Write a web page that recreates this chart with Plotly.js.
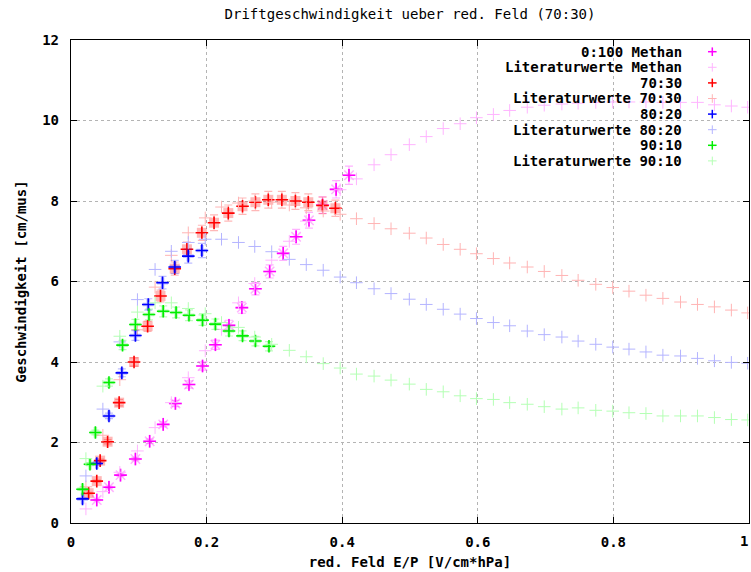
<!DOCTYPE html>
<html>
<head>
<meta charset="utf-8">
<script src="https://cdn.plot.ly/plotly-3.0.1.min.js"></script>
<style>html,body{margin:0;padding:0;background:#fff}#chart{width:751px;height:572px}</style>
</head>
<body>
<div id="chart"></div>
<script>
// ---- Data ----
const seriesNames = ["0:100 Methan","Literaturwerte Methan","70:30","Literaturwerte 70:30","80:20","Literaturwerte 80:20","90:10","Literaturwerte 90:10"];

const methanX = [0.038,0.056,0.073,0.095,0.116,0.136,0.154,0.174,0.194,0.213,0.233,0.252,0.272,0.293,0.313,0.332,0.351,0.371,0.391,0.410];
const methanY = [0.57,0.89,1.19,1.59,2.03,2.45,2.97,3.44,3.90,4.43,4.91,5.35,5.82,6.25,6.70,7.11,7.52,7.90,8.29,8.64];

const litX = [0.022,0.047,0.072,0.098,0.124,0.148,0.173,0.198,0.222,0.247,0.271,0.296,0.322,0.347,0.372,0.397,0.421,0.447,0.472,0.499,0.524,0.549,0.574,0.598,0.623,0.647,0.673,0.698,0.724,0.748,0.774,0.799,0.823,0.848,0.873,0.899,0.924,0.949,0.974,0.998];
const litMethanY = [0.35,0.78,1.26,1.79,2.37,2.99,3.61,4.28,4.81,5.47,5.95,6.53,7.00,7.50,7.90,8.28,8.55,8.90,9.15,9.40,9.60,9.80,9.92,10.07,10.15,10.25,10.33,10.38,10.41,10.43,10.45,10.46,10.46,10.46,10.45,10.45,10.45,10.39,10.36,10.33];
const lit7030Y = [0.90,2.18,3.56,4.80,5.86,6.65,7.21,7.58,7.85,7.95,8.00,7.97,7.90,7.83,7.75,7.67,7.56,7.44,7.31,7.20,7.08,6.92,6.80,6.69,6.57,6.46,6.36,6.25,6.15,6.03,5.93,5.85,5.76,5.66,5.58,5.49,5.43,5.37,5.29,5.22];
const lit8020Y = [1.17,2.83,4.50,5.55,6.30,6.75,6.97,7.05,7.05,6.97,6.87,6.74,6.55,6.42,6.28,6.11,5.97,5.82,5.70,5.56,5.43,5.31,5.19,5.08,4.98,4.90,4.77,4.68,4.62,4.52,4.44,4.37,4.32,4.25,4.17,4.15,4.09,4.03,3.99,3.97];
const lit9010Y = [1.60,3.40,4.64,5.24,5.47,5.47,5.33,5.20,4.98,4.86,4.62,4.44,4.29,4.13,3.96,3.85,3.70,3.65,3.55,3.45,3.32,3.26,3.16,3.09,3.07,2.99,2.95,2.89,2.83,2.86,2.80,2.78,2.74,2.72,2.66,2.66,2.66,2.62,2.57,2.56];

const m7030X = [0.026,0.038,0.043,0.054,0.071,0.093,0.113,0.132,0.153,0.171,0.193,0.211,0.232,0.253,0.272,0.291,0.311,0.331,0.350,0.371,0.390];
const m7030Y = [0.74,1.04,1.55,2.02,2.99,4.00,4.89,5.64,6.32,6.80,7.21,7.46,7.70,7.87,7.97,8.03,8.03,8.00,7.97,7.89,7.82];

const m8020X = [0.017,0.038,0.056,0.075,0.095,0.114,0.135,0.153,0.173,0.193];
const m8020Y = [0.60,1.48,2.66,3.73,4.66,5.43,5.97,6.36,6.63,6.77];

const m9010X = [0.017,0.028,0.036,0.056,0.076,0.095,0.115,0.136,0.155,0.174,0.194,0.213,0.233,0.253,0.272,0.292];
const m9010Y = [0.84,1.46,2.25,3.49,4.42,4.93,5.18,5.26,5.23,5.16,5.04,4.94,4.77,4.65,4.52,4.39];

const xTickVals = [0,0.2,0.4,0.6,0.8,1];
const xTickText = ["0","0.2","0.4","0.6","0.8","1"];
const yTickVals = [0,2,4,6,8,10,12];
const yTickText = ["0","2","4","6","8","10","12"];

// ---- Styles ----
const FONT = "DejaVu Sans Mono, monospace";
const colMeas = ["#ff00ff","#ff0000","#0000ff","#00ee00"];
const colHalo = ["rgba(255,0,255,0.3)","rgba(255,0,0,0.28)","rgba(0,0,255,0.25)","rgba(0,238,0,0.25)"];
const colLit  = ["#ffb4ff","#ffb4b4","#b4b4ff","#b4ffb4"];
const haloSym = ["asterisk-open","square","cross","cross"];

function halo(x,y,i){
  const sym = haloSym[i];
  const open = sym.indexOf("open")>=0;
  return {x:x,y:y,type:"scatter",mode:"markers",showlegend:false,hoverinfo:"skip",
    marker:{symbol:sym,size:open?11:(i===1?10:9),color:colHalo[i],line:{color:colHalo[i],width:open?1.5:0}},
    error_y:{type:"percent",value:2.6,color:colHalo[i],thickness:1.2,width:4}};
}
function meas(x,y,i){
  return {x:x,y:y,type:"scatter",mode:"markers",name:seriesNames[2*i],showlegend:false,
    marker:{symbol:"cross-thin-open",size:9,color:colMeas[i],line:{color:colMeas[i],width:1.6}}};
}
function lit(x,y,i){
  return {x:x,y:y,type:"scatter",mode:"markers",name:seriesNames[2*i+1],showlegend:false,
    marker:{symbol:"cross-thin-open",size:9,color:colLit[i],line:{color:colLit[i],width:1}}};
}

const data = [
  halo(methanX,methanY,0), meas(methanX,methanY,0), lit(litX,litMethanY,0),
  halo(m7030X,m7030Y,1), meas(m7030X,m7030Y,1), lit(litX,lit7030Y,1),
  halo(m8020X,m8020Y,2), meas(m8020X,m8020Y,2), lit(litX,lit8020Y,2),
  halo(m9010X,m9010Y,3), meas(m9010X,m9010Y,3), lit(litX,lit9010Y,3)
];

// ---- Layout ----
const W=751,H=572,ML=71,MR=2,MT=40,MB=49;
const PW=W-ML-MR, PH=H-MT-MB;
const px2x = p => (p-ML)/PW;
const px2y = p => (H-MB-p)/PH;
const TICKFONT = {family:FONT,size:14,color:"#000",weight:"bold"};

const annotations = [];
const shapes = [];
for(let k=0;k<8;k++){
  const cy = 51.7+15.6*k;
  annotations.push({xref:"paper",yref:"paper",x:px2x(684),y:px2y(cy),xanchor:"right",yanchor:"middle",
    text:seriesNames[k],showarrow:false,font:TICKFONT});
  const i = Math.floor(k/2), isLit = k%2===1;
  const c = isLit?colLit[i]:colMeas[i], w = isLit?1:1.5, h=4.3, cx=712.3;
  shapes.push({type:"line",xref:"paper",yref:"paper",x0:px2x(cx-h),x1:px2x(cx+h),y0:px2y(cy),y1:px2y(cy),line:{color:c,width:w}});
  shapes.push({type:"line",xref:"paper",yref:"paper",x0:px2x(cx),x1:px2x(cx),y0:px2y(cy-h),y1:px2y(cy+h),line:{color:c,width:w}});
}
// last x tick label, kept inside the page instead of being cut at the right edge
const shownXText = xTickText.slice(0,-1).concat([""]);
annotations.push({xref:"paper",yref:"paper",x:px2x(750),y:px2y(541),xanchor:"right",yanchor:"middle",
  text:xTickText[xTickText.length-1],showarrow:false,font:TICKFONT});

const axisCommon = {showline:true,mirror:"ticks",linecolor:"#000",linewidth:1.2,ticks:"inside",ticklen:6,tickcolor:"#000",
  showgrid:true,gridcolor:"#b4b4b4",griddash:"dot",gridwidth:1,zeroline:false,
  tickfont:TICKFONT};

const layout = {
  width:W,height:H,margin:{l:ML,r:MR,t:MT,b:MB,pad:0},
  paper_bgcolor:"#fff",plot_bgcolor:"#fff",showlegend:false,
  title:{text:"Driftgeschwindigkeit ueber red. Feld (70:30)",font:{family:FONT,size:14,color:"#000"},
    x:0.5,xref:"paper",xanchor:"center",y:1-14/H,yref:"container",yanchor:"middle"},
  xaxis:Object.assign({},axisCommon,{range:[0,1],tickvals:xTickVals,ticktext:shownXText,ticklabelstandoff:6,
    title:{text:"red. Feld E/P [V/cm*hPa]",font:TICKFONT,standoff:8}}),
  yaxis:Object.assign({},axisCommon,{range:[0,12],tickvals:yTickVals,ticktext:yTickText,ticklabelstandoff:8,
    title:{text:"Geschwindigkeit [cm/mus]",font:TICKFONT,standoff:12}}),
  annotations:annotations,shapes:shapes
};

Plotly.newPlot("chart",data,layout,{staticPlot:true,displayModeBar:false});
</script>
</body>
</html>
